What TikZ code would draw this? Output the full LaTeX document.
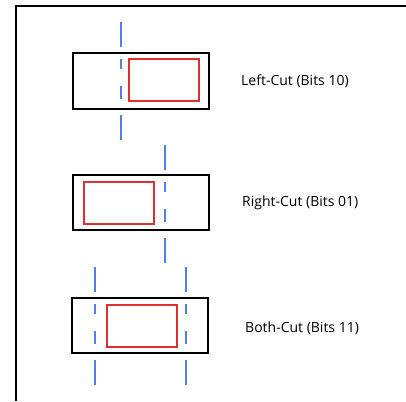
\documentclass[tikz,border=0pt]{standalone}
\usepackage{fontspec}
\setmainfont{Open Sans}
\definecolor{cutblue}{RGB}{80,128,232}
\definecolor{cutred}{RGB}{222,48,48}
\begin{document}
\begin{tikzpicture}[x=1pt,y=-1pt,
  outerbox/.style={draw=black,line width=2pt,minimum width=136pt,minimum height=55pt,inner sep=0pt},
  innerbox/.style={draw=cutred,line width=2pt,minimum width=70pt,minimum height=42pt,inner sep=0pt},
  cutline/.style={draw=cutblue,line width=2pt,dash pattern=on 25pt off 12pt on 10pt off 17pt on 13pt off 16pt on 25pt off 20pt},
  lbl/.style={anchor=west,inner sep=0pt,font=\fontsize{14}{16}\selectfont}]
\useasboundingbox (0,0) rectangle (406,401);
\fill[white] (0,0) rectangle (406,401);
\draw[line width=2.5pt] (16,401) -- (16,6) -- (406,6);
% Left-Cut
\node[outerbox] (o1) at (141,81) {};
\node[innerbox] (r1) at (164,80) {};
\coordinate (l1t) at (121,22);
\coordinate (l1b) at (121,140);
\draw[cutline] (l1t) -- (l1b);
\node[lbl] (t1) at (241,81) {Left-Cut (Bits 10)};
% Right-Cut
\node[outerbox] (o2) at (141,202.5) {};
\node[innerbox] (r2) at (118.5,202.5) {};
\coordinate (l2t) at (165,145);
\coordinate (l2b) at (165,263);
\draw[cutline] (l2t) -- (l2b);
\node[lbl] (t2) at (242,203) {Right-Cut (Bits 01)};
% Both-Cut
\node[outerbox] (o3) at (140,325.5) {};
\node[innerbox] (r3) at (141.5,325.5) {};
\coordinate (l3t) at (95,267);
\coordinate (l3b) at (95,385);
\coordinate (l4t) at (186,267);
\coordinate (l4b) at (186,385);
\draw[cutline] (l3t) -- (l3b);
\draw[cutline] (l4t) -- (l4b);
\node[lbl] (t3) at (245,328) {Both-Cut (Bits 11)};
\end{tikzpicture}
\end{document}
